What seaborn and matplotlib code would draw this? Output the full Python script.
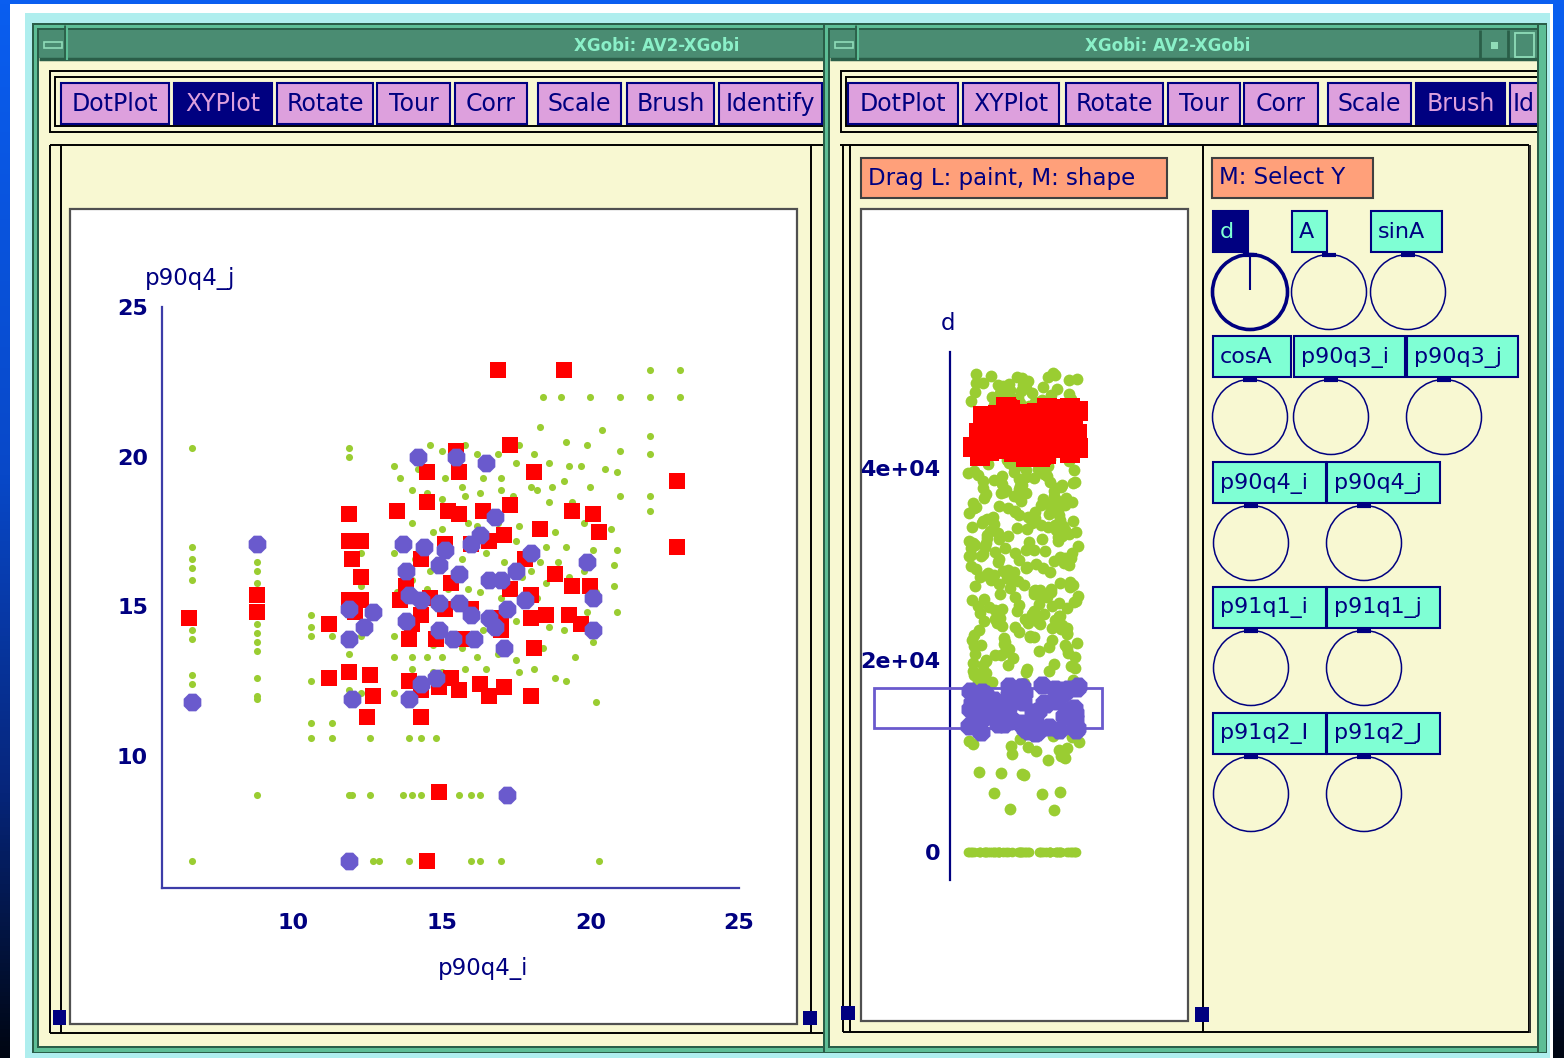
import matplotlib
matplotlib.use('Agg')
import matplotlib.pyplot as plt
from matplotlib.patches import Rectangle, Circle
from matplotlib.colors import LinearSegmentedColormap
import numpy as np
import seaborn as sns

# ---------------------------------------------------------------------------
# Data
# ---------------------------------------------------------------------------

# left window: XYPlot, p90q4_j against p90q4_i
green_xy = [
    (6.6, 20.3), (6.6, 17.0), (6.6, 16.6), (6.6, 16.3), (6.6, 15.9), (6.6, 14.2),
    (6.6, 13.9), (6.6, 12.7), (6.6, 12.4), (6.6, 6.5),
    (8.8, 16.5), (8.8, 16.2), (8.8, 15.8), (8.8, 14.4), (8.8, 14.1), (8.8, 13.8),
    (8.8, 13.5), (8.8, 12.6), (8.8, 12.0), (8.8, 11.9), (8.8, 8.7),
    (10.6, 14.7), (10.6, 14.3), (10.6, 14.0), (10.6, 12.5), (10.6, 11.1), (10.6, 10.6),
    (11.3, 14.0), (11.3, 11.1), (11.3, 10.6),
    (11.9, 20.3), (11.9, 20.0), (11.9, 13.4), (11.9, 12.2), (11.9, 8.7), (12.0, 8.7),
    (12.3, 16.8), (12.3, 15.7), (12.3, 14.0), (12.3, 12.1), (12.6, 10.6), (12.6, 8.7),
    (12.7, 6.5), (12.9, 6.5),
    (13.4, 19.7), (13.6, 19.3), (13.4, 16.8), (13.5, 15.5), (13.4, 14.0), (13.4, 13.3),
    (13.4, 12.1), (13.7, 8.7), (14.0, 8.7), (13.9, 6.5), (13.9, 10.6),
    (14.1, 19.9), (14.2, 19.6), (14.0, 18.9), (14.0, 17.8), (14.1, 16.6), (14.0, 15.9),
    (14.2, 14.7), (14.0, 13.3), (14.0, 12.9), (14.3, 10.6), (14.3, 8.7),
    (14.6, 20.4), (14.5, 18.8), (14.7, 17.5), (14.6, 16.2), (14.5, 15.6), (14.7, 13.7),
    (14.5, 13.3), (14.8, 10.6), (14.7, 12.8),
    (15.0, 20.2), (15.1, 19.3), (15.0, 18.6), (15.0, 17.6), (15.2, 15.6), (15.0, 13.3),
    (15.0, 12.8), (15.6, 8.7),
    (15.8, 20.4), (15.7, 19.0), (15.8, 18.7), (15.9, 17.8), (15.7, 16.6), (15.9, 15.6),
    (15.7, 13.6), (15.8, 12.9), (16.0, 8.7), (16.0, 6.5), (16.3, 6.5),
    (16.2, 20.1), (16.4, 19.3), (16.3, 18.8), (16.2, 17.7), (16.5, 16.8), (16.3, 15.5),
    (16.4, 14.2), (16.2, 13.3), (16.5, 12.9), (16.3, 8.7),
    (16.9, 20.1), (17.0, 19.3), (17.0, 18.9), (16.9, 17.8), (17.1, 16.5), (17.0, 15.3),
    (16.9, 13.4), (17.0, 6.5),
    (17.6, 20.4), (17.5, 19.8), (17.4, 18.7), (17.6, 17.7), (17.5, 17.2), (17.7, 16.0),
    (17.5, 14.5), (17.5, 13.2), (17.6, 12.8),
    (18.3, 21.0), (18.1, 20.1), (18.0, 19.0), (18.2, 18.9), (18.3, 16.5), (18.0, 16.2),
    (18.2, 15.3), (18.1, 12.9), (18.4, 13.6),
    (18.4, 22.0), (18.6, 19.8), (18.7, 19.0), (18.6, 18.5), (18.8, 17.5), (18.5, 17.0),
    (18.9, 16.5), (18.5, 15.8), (18.6, 14.3), (18.8, 12.6),
    (19.0, 22.0), (19.2, 20.5), (19.3, 19.7), (19.1, 19.2), (19.4, 18.5), (19.2, 17.0),
    (19.3, 16.0), (19.1, 14.2), (19.5, 13.3), (19.2, 12.5),
    (20.0, 22.0), (19.9, 20.4), (19.7, 19.7), (20.0, 19.0), (19.8, 17.8), (20.1, 16.9),
    (19.8, 16.2), (20.2, 15.5), (19.9, 14.8), (20.1, 13.8), (20.2, 11.8), (20.3, 6.5),
    (20.4, 20.9), (20.5, 19.6), (20.9, 19.5), (20.7, 17.6), (20.8, 16.4), (20.9, 16.9),
    (20.8, 15.7), (20.9, 14.8), (21.0, 22.0), (21.0, 20.2), (21.0, 18.7),
    (22.0, 22.9), (22.0, 22.0), (22.0, 20.7), (22.0, 20.1), (22.0, 18.7), (22.0, 18.2),
    (23.0, 22.9), (23.0, 22.0),
]

red_xy = [
    (16.9, 22.9), (19.1, 22.9), (22.9, 19.2), (22.9, 17.0), (17.3, 20.4), (15.5, 20.2),
    (14.5, 19.5), (15.6, 19.5), (18.1, 19.5), (11.9, 18.1), (13.5, 18.2), (14.5, 18.5),
    (15.2, 18.2), (15.6, 18.1), (16.4, 18.2), (17.3, 18.4), (18.3, 17.6), (19.4, 18.2),
    (20.1, 18.1), (20.3, 17.5), (11.9, 17.2), (12.3, 17.2), (12.0, 16.6), (12.3, 16.0),
    (11.9, 15.2), (12.3, 15.2), (13.8, 15.7), (14.3, 16.6), (15.1, 17.1), (16.0, 17.1),
    (16.6, 17.2), (17.1, 17.4), (17.8, 16.6), (18.8, 16.1), (19.4, 15.7), (20.0, 15.7),
    (18.0, 15.4), (18.5, 14.7), (19.3, 14.7), (19.7, 14.4), (11.2, 14.4), (13.6, 15.2),
    (14.3, 14.7), (15.1, 14.9), (16.0, 14.9), (17.0, 14.6), (18.0, 14.6), (13.9, 13.9),
    (14.8, 13.9), (15.7, 13.9), (17.0, 14.2), (18.1, 13.6), (11.2, 12.6), (11.9, 12.8),
    (12.6, 12.7), (12.7, 12.0), (13.9, 12.5), (14.3, 12.2), (14.9, 12.3), (15.6, 12.2),
    (16.3, 12.4), (17.1, 12.3), (18.0, 12.0), (12.5, 11.3), (14.3, 11.3), (14.9, 8.8),
    (14.5, 6.5), (8.8, 15.4), (8.8, 14.8), (6.5, 14.6), (14.6, 15.3), (15.3, 15.8),
    (14.0, 14.4), (17.3, 15.6), (12.1, 14.8), (15.3, 12.6), (16.6, 12.0),
]

blue_xy = [
    (14.2, 20.0), (15.5, 20.0), (16.5, 19.8), (8.8, 17.1), (13.7, 17.1), (14.4, 17.0),
    (15.1, 16.9), (16.0, 17.1), (16.3, 17.4), (16.8, 18.0), (18.0, 16.8), (19.9, 16.5),
    (13.8, 16.2), (14.9, 16.4), (15.6, 16.1), (16.6, 15.9), (17.0, 15.9), (17.5, 16.2),
    (13.9, 15.4), (14.3, 15.2), (14.9, 15.1), (15.6, 15.1), (11.9, 14.9), (12.7, 14.8),
    (16.0, 14.7), (16.6, 14.6), (17.2, 14.9), (17.8, 15.2), (20.1, 15.3), (11.9, 13.9),
    (12.4, 14.3), (13.8, 14.5), (14.9, 14.2), (15.4, 13.9), (16.1, 13.9), (16.8, 14.3),
    (17.1, 13.6), (20.1, 14.2), (6.6, 11.8), (12.0, 11.9), (13.9, 11.9), (14.3, 12.4),
    (14.8, 12.6), (17.2, 8.7), (11.9, 6.5),
]
xy_ticks = [10, 15, 20, 25]

# right window: dotplot of d (values in thousands)
d_green = [
    49.8, 49.7, 49.5, 49.5, 49.3, 49.1, 49.0, 48.9, 48.6, 48.6, 48.4, 48.2, 48.1, 47.9,
    47.8, 47.7, 47.4, 47.3, 47.2, 47.0, 46.9, 46.7, 46.6, 46.5, 49.2, 48.8, 48.3, 47.6,
    47.1, 46.8, 49.6, 49.4, 48.7, 48.0, 47.5, 46.6, 49.9, 48.5, 47.85, 46.95,
    40.95, 40.8, 40.62, 40.5, 40.33, 40.21, 40.07, 40.71, 40.44, 40.9, 40.15, 40.58,
    39.9, 39.76, 39.6, 39.48, 39.3, 39.17, 39.05, 39.55, 39.84, 39.4, 39.68, 39.12,
    38.92, 38.7, 38.58, 38.41, 38.27, 38.1, 38.02, 38.63, 38.35, 38.8, 38.5, 38.18,
    37.88, 37.73, 37.5, 37.42, 37.26, 37.13, 37.0, 37.61, 37.95, 37.35, 37.8, 37.05,
    36.9, 36.79, 36.6, 36.45, 36.32, 36.18, 36.04, 36.55, 36.71, 36.25, 36.85, 36.1,
    35.93, 35.82, 35.64, 35.5, 35.37, 35.2, 35.08, 35.7, 35.28, 35.45, 35.15, 35.88,
    34.91, 34.74, 34.6, 34.43, 34.31, 34.15, 34.02, 34.52, 34.86, 34.25, 34.68, 34.08,
    33.95, 33.8, 33.66, 33.49, 33.33, 33.21, 33.06, 33.58, 33.12, 33.4, 33.72, 33.88,
    32.9, 32.72, 32.61, 32.44, 32.3, 32.16, 32.01, 32.55, 32.83, 32.22, 32.38, 32.95,
    31.94, 31.77, 31.62, 31.5, 31.35, 31.19, 31.03, 31.7, 31.41, 31.1, 31.86, 31.28,
    30.88, 30.75, 30.58, 30.42, 30.3, 30.12, 30.04, 30.65, 30.96, 30.2, 30.5, 30.81,
    29.92, 29.8, 29.63, 29.47, 29.36, 29.2, 29.07, 29.55, 29.7, 29.28, 29.12,
    28.9, 28.71, 28.57, 28.45, 28.28, 28.14, 28.02, 28.63, 28.39, 28.8, 28.2,
    27.93, 27.78, 27.6, 27.48, 27.31, 27.17, 27.05, 27.69, 27.4, 27.85, 27.24,
    26.91, 26.74, 26.59, 26.42, 26.33, 26.19, 26.06, 26.51, 26.85, 26.27, 26.66,
    25.95, 25.8, 25.66, 25.5, 25.34, 25.22, 25.08, 25.58, 25.42, 25.73, 25.15,
    24.9, 24.77, 24.62, 24.46, 24.3, 24.15, 24.01, 24.55, 24.83, 24.38, 24.22,
    23.94, 23.8, 23.64, 23.48, 23.35, 23.2, 23.09, 23.71, 23.56, 23.28, 23.87,
    22.88, 22.72, 22.6, 22.43, 22.29, 22.13, 22.05, 22.52, 22.8, 22.36,
    21.9, 21.77, 21.6, 21.45, 21.32, 21.18, 21.03, 21.52, 21.68, 21.25,
    20.93, 20.8, 20.64, 20.47, 20.3, 20.16, 20.02, 20.55, 20.72,
    19.85, 19.6, 19.44, 19.2, 19.05, 19.72, 19.33, 19.52,
    18.9, 18.7, 18.52, 18.33, 18.1, 18.61, 18.42, 18.8,
    17.95, 17.8, 17.6, 17.5, 17.7,
    12.1, 12.0, 11.8, 11.6, 11.5, 11.2, 11.0, 10.9, 10.8, 10.6, 10.5, 10.2, 10.0, 9.9,
    9.8, 9.6, 8.3, 8.2, 8.1, 8.0, 6.2, 6.1, 6.0, 4.5, 4.4,
]
d_zero = [0.0, 0.0, 0.0, 0.0, 0.0, 0.0, 0.0, 0.0, 0.0, 0.0, 0.0, 0.0, 0.0, 0.0, 0.0,
          0.0, 0.0, 0.0, 0.0, 0.0, 0.0, 0.0, 0.0, 0.0, 0.0, 0.0, 0.0, 0.0, 0.0, 0.0,
          0.0, 0.0, 0.0, 0.0, 0.0, 0.0, 0.0, 0.0, 0.0, 0.0, 0.0, 0.0, 0.0, 0.0, 0.0,
          0.0, 0.0, 0.0, 0.0, 0.0, 0.0, 0.0, 0.0, 0.0, 0.0, 0.0, 0.0, 0.0, 0.0, 0.0]
d_red = [
    46.3, 46.2, 46.1, 46.0, 45.9, 45.7, 45.6, 45.4, 45.3, 45.1, 45.0, 44.8, 44.7, 44.5,
    44.4, 44.2, 44.1, 43.9, 43.8, 43.6, 43.5, 43.3, 43.2, 43.0, 42.9, 42.7, 42.6, 42.4,
    42.3, 42.1, 42.0, 41.8, 41.7, 41.5, 41.4, 41.2, 41.1, 46.25, 45.8, 44.95, 44.0,
    43.1, 42.2, 41.6, 45.5, 44.3, 43.4, 42.5, 41.3, 46.15, 46.05, 45.85, 45.65, 45.45,
    45.25, 45.05, 44.85, 44.65, 44.45, 44.25, 44.05, 43.85, 43.65, 43.45, 43.25,
    43.05, 42.85, 42.65, 42.45, 42.25, 42.05, 41.85, 41.65, 41.45, 41.25, 41.15,
]
d_blue = [
    17.3, 17.2, 17.1, 17.0, 16.9, 16.7, 16.6, 16.4, 16.3, 16.1, 16.0, 15.8, 15.7, 15.5,
    15.4, 15.2, 15.1, 14.9, 14.8, 14.6, 14.5, 14.3, 14.2, 14.0, 13.9, 13.7, 13.6, 13.4,
    13.3, 13.1, 13.0, 12.8, 12.7, 12.5, 12.4, 17.25, 16.5, 15.6, 14.7, 13.8, 12.9, 16.8,
    17.15, 16.95, 16.75, 16.55, 16.35, 16.15, 15.95, 15.75, 15.55, 15.35, 15.15,
    14.95, 14.75, 14.55, 14.35, 14.15, 13.95, 13.75, 13.55, 13.35, 13.15, 12.95,
    12.75, 12.55, 12.45, 17.35,
]
d_ticks = [0, 20, 40]
d_ticklabels = ['0', '2e+04', '4e+04']

left_buttons = ['DotPlot', 'XYPlot', 'Rotate', 'Tour', 'Corr', 'Scale', 'Brush', 'Identify']
# the last button of the right window is cut by the window edge: only "Id" shows
right_buttons = ['DotPlot', 'XYPlot', 'Rotate', 'Tour', 'Corr', 'Scale', 'Brush', 'Id']
var_rows = [['d', 'A', 'sinA'], ['cosA', 'p90q3_i', 'p90q3_j'], ['p90q4_i', 'p90q4_j'],
            ['p91q1_i', 'p91q1_j'], ['p91q2_I', 'p91q2_J']]

# ---------------------------------------------------------------------------
# Colours (X11 names of the xgobi resources)
# ---------------------------------------------------------------------------
NAVY = '#000080'
AXIS = '#3c3ca8'
PLUM = '#dda0dd'
YELLOW = '#f8f8d2'
AQUA = '#7fffd4'
SALMON = '#ffa07a'
DKGREEN = '#2a5e48'
LTGREEN = '#5dbe96'
TITLEGREEN = '#4a8c72'
GREEN = '#9acd32'
RED = '#ff0000'
BLUE = '#6a5acd'

sns.set_theme(style='white')
plt.rcParams['font.family'] = ['DejaVu Sans']

W, H = 1564, 1058
fig = plt.figure(figsize=(W / 100, H / 100), dpi=100)
bg = fig.add_axes([0, 0, 1, 1])

# blue desktop gradient
cmap = LinearSegmentedColormap.from_list(
    'desk', [(0, '#0a5ef0'), (0.45, '#0848c8'), (0.75, '#06257a'), (1, '#000612')])
bg.imshow(np.linspace(0, 1, 256).reshape(-1, 1), extent=(0, W, H, 0), aspect='auto',
          cmap=cmap, zorder=0)
bg.set_xlim(0, W)
bg.set_ylim(H, 0)
bg.axis('off')


def box(x0, y0, x1, y1, fc='none', ec='none', lw=0, z=1):
    bg.add_patch(Rectangle((x0, y0), x1 - x0, y1 - y0, facecolor=fc, edgecolor=ec,
                           linewidth=lw, zorder=z))


def line(xs, ys, c='black', lw=1.4, z=1):
    bg.plot(xs, ys, color=c, lw=lw, zorder=z, solid_capstyle='butt')


box(10, 4, 1553, H, fc='white', z=0.5)
box(25, 13, 1550, H, fc='#afeeee', z=0.6)


def window(x0, x1, z):
    y0, y1 = 23, 1053
    box(x0, y0, x1, y1, fc=DKGREEN, z=z)
    box(x0 + 1.5, y0 + 1.5, x1 - 1.5, y1 - 1.5, fc=LTGREEN, z=z)
    box(x0 + 5, y0 + 5, x1 - 5, y1 - 5, fc=DKGREEN, z=z)
    box(x0 + 7, y0 + 7, x1 - 7, y1 - 7, fc=YELLOW, z=z)
    # title bar
    box(x0 + 7, y0 + 7, x1 - 7, y0 + 35, fc=TITLEGREEN, z=z)
    line([x0 + 7, x1 - 7], [y0 + 36, y0 + 36], c=DKGREEN, lw=2.5, z=z)
    # minimise box at the left of the title bar
    line([x0 + 33, x0 + 33], [y0 + 2, y0 + 37], c=DKGREEN, lw=2, z=z)
    line([x0 + 35, x0 + 35], [y0 + 2, y0 + 37], c=LTGREEN, lw=1.5, z=z)
    box(x0 + 12, y0 + 19, x0 + 30, y0 + 25, fc=TITLEGREEN, ec='#8fdcb8', lw=1.2, z=z)
    # button panel frame
    right = min(x1 + 20, 1540)
    box(x0 + 18, 71, right, 132, ec='black', lw=1.4, z=z)
    box(x0 + 23, 77, right, 126, ec='black', lw=1.4, z=z)


def buttons(names, spans, selected, z):
    for name, (bx0, bx1) in zip(names, spans):
        on = name == selected
        box(bx0, 83, bx1, 124, fc=NAVY if on else PLUM, ec=NAVY, lw=1.5, z=z)
        if bx1 > 1537:
            # button cut by the window edge: text starts at its left padding
            bg.text(bx0 + 3, 104, name, ha='left', va='center', fontsize=17,
                    color=NAVY, zorder=z)
        else:
            bg.text((bx0 + bx1) / 2, 104, name, ha='center', va='center', fontsize=17,
                    color=PLUM if on else NAVY, zorder=z)


# ---------------- left window ----------------
window(32, 840, z=1)
bg.text(657, 46, 'XGobi: AV2-XGobi', ha='center', va='center', fontsize=12,
        fontweight='bold', color='#8af0c8', zorder=2)
buttons(left_buttons,
        [(61, 169), (174, 272), (277, 373), (377, 450), (455, 527), (538, 621),
         (627, 714), (719, 822)], 'XYPlot', z=2)
line([50, 840], [145, 145], z=2)
line([50, 840], [1033, 1033], z=2)
line([50, 50], [145, 1033], z=2)
line([61, 61], [145, 1033], z=2)
line([811, 811], [145, 1033], z=2)
box(70, 209, 797, 1024, fc='white', ec='#505050', lw=1.6, z=2)
box(53, 1010, 66, 1025, fc=NAVY, z=2)
box(803, 1011, 817, 1025, fc=NAVY, z=2)
bg.text(145, 278, 'p90q4_j', ha='left', va='center', fontsize=16.5, color=NAVY, zorder=3)
bg.text(483, 968, 'p90q4_i', ha='center', va='center', fontsize=16.5, color=NAVY, zorder=3)

# ---------------- right window ----------------
window(823, 1547, z=10)
bg.text(1168, 46, 'XGobi: AV2-XGobi', ha='center', va='center', fontsize=12,
        fontweight='bold', color='#8af0c8', zorder=11)
line([1480, 1480], [30, 58], c=DKGREEN, lw=2, z=11)
line([1508, 1508], [30, 58], c=DKGREEN, lw=2, z=11)
box(1491, 42, 1498, 49, fc='#8fdcb8', z=11)
box(1515, 33, 1534, 57, ec='#8fdcb8', lw=1.3, z=11)
buttons(right_buttons,
        [(848, 958), (963, 1059), (1066, 1163), (1168, 1240), (1244, 1318),
         (1328, 1411), (1416, 1505), (1510, 1566)], 'Brush', z=11)
line([840, 1529], [145, 145], z=11)
line([843, 1529], [1032, 1032], z=11)
line([843, 843], [145, 1032], z=11)
line([850, 850], [145, 1032], z=11)
line([1203, 1203], [145, 1032], z=11)
line([1529, 1529], [145, 1032], z=11)
box(861, 158, 1167, 198, fc=SALMON, ec='#404040', lw=1.5, z=11)
bg.text(868, 178, 'Drag L: paint, M: shape', ha='left', va='center', fontsize=16.5,
        color=NAVY, zorder=12)
box(1212, 158, 1373, 198, fc=SALMON, ec='#404040', lw=1.5, z=11)
bg.text(1219, 178, 'M: Select Y', ha='left', va='center', fontsize=16.5,
        color=NAVY, zorder=12)
box(861, 209, 1188, 1021, fc='white', ec='#505050', lw=1.6, z=11)
box(841, 1006, 855, 1020, fc=NAVY, z=12)
box(1195, 1007, 1209, 1022, fc=NAVY, z=12)
bg.text(948, 323, 'd', ha='center', va='center', fontsize=16.5, color=NAVY, zorder=12)

# variable selection circles
row_tops = [211, 336, 462, 587, 713]
row_spans = [[(1213, 1248), (1292, 1327), (1371, 1442)],
             [(1213, 1291), (1294, 1405), (1407, 1518)],
             [(1213, 1326), (1327, 1440)],
             [(1213, 1326), (1327, 1440)],
             [(1213, 1326), (1327, 1440)]]
row_centres = [[1250, 1329, 1408], [1250, 1331, 1444], [1251, 1364],
               [1251, 1364], [1251, 1364]]
for names, top, spans, centres in zip(var_rows, row_tops, row_spans, row_centres):
    cy = top + 81
    for name, (bx0, bx1), cx in zip(names, spans, centres):
        on = name == 'd'
        box(bx0, top, bx1, top + 41, fc=NAVY if on else AQUA, ec=NAVY, lw=1.5, z=12)
        bg.text(bx0 + 7, top + 21, name, ha='left', va='center', fontsize=16,
                color=AQUA if on else NAVY, zorder=13)
        bg.add_patch(Circle((cx, cy), 37.5, facecolor='none', edgecolor=NAVY,
                            lw=2.6 if on else 1.1, zorder=12))
        line([cx - 7, cx + 7], [cy - 37.5, cy - 37.5], c=NAVY, lw=3, z=12)
        if on:
            line([cx, cx], [cy - 37, cy - 2], c=NAVY, lw=1.5, z=12)

# right frame edge drawn on top so the clipped button disappears behind it
box(1537, 23, 1547, 1053, fc=DKGREEN, z=14)
box(1538.5, 24.5, 1545.5, 1051.5, fc=LTGREEN, z=14)
box(1547, 13, 1550, H, fc='#afeeee', z=14)
box(1550, 4, 1553, H, fc='white', z=14)
bg.imshow(np.linspace(0, 1, 256).reshape(-1, 1), extent=(1553, W, H, 0), aspect='auto',
          cmap=cmap, zorder=14)
box(1531, 136, 1537, 1046, fc=YELLOW, z=14)
box(1529, 145, 1531, 1033, fc='#303030', z=14)
bg.set_xlim(0, W)
bg.set_ylim(H, 0)

# ---------------------------------------------------------------------------
# XYPlot (left)
# ---------------------------------------------------------------------------
ax1 = fig.add_axes([162 / W, 1 - 888 / H, (739 - 162) / W, (888 - 307) / H])
ax1.set_facecolor('none')
gx, gy = zip(*green_xy)
rx, ry = zip(*red_xy)
bx, by = zip(*blue_xy)
sns.scatterplot(x=list(gx), y=list(gy), ax=ax1, color=GREEN, s=26, marker='o',
                linewidth=0, clip_on=False)
sns.scatterplot(x=list(rx), y=list(ry), ax=ax1, color=RED, s=135, marker='s',
                linewidth=0, clip_on=False)
sns.scatterplot(x=list(bx), y=list(by), ax=ax1, color=BLUE, s=190, marker='8',
                linewidth=0, clip_on=False)
ax1.set_xlim(5.6, 25)
ax1.set_ylim(5.6, 25)
ax1.set_xticks(xy_ticks)
ax1.set_yticks(xy_ticks)
for side in ['top', 'right']:
    ax1.spines[side].set_visible(False)
for side in ['left', 'bottom']:
    ax1.spines[side].set_color(AXIS)
    ax1.spines[side].set_linewidth(1.6)
ax1.tick_params(axis='both', direction='out', length=7, width=1.6, color=AXIS,
                labelcolor=NAVY, labelsize=16)
ax1.tick_params(axis='x', pad=11)
ax1.tick_params(axis='y', pad=3)
for lab in ax1.get_xticklabels() + ax1.get_yticklabels():
    lab.set_fontweight('bold')
ax1.grid(False)

# ---------------------------------------------------------------------------
# DotPlot of d (right)
# ---------------------------------------------------------------------------
ax2 = fig.add_axes([950 / W, 1 - 880 / H, 150 / W, (880 - 352) / H])
ax2.set_facecolor('none')
np.random.seed(7)
sns.stripplot(y=d_green, ax=ax2, color=GREEN, jitter=0.37, size=8.5, linewidth=0)
sns.stripplot(y=d_zero, ax=ax2, color=GREEN, jitter=0.37, size=7, linewidth=0)
sns.stripplot(y=d_red, ax=ax2, color=RED, jitter=0.37, size=14, marker='s',
              linewidth=0)
sns.stripplot(y=d_blue, ax=ax2, color=BLUE, jitter=0.37, size=14, marker='8',
              linewidth=0)
ax2.add_patch(Rectangle((-0.997, 12.9), 1.52, 4.2, facecolor='none', edgecolor=BLUE,
                        linewidth=2, clip_on=False, zorder=5))
ax2.set_xlim(-0.49, 0.51)
ax2.set_ylim(-2.92, 52.08)
ax2.set_xticks([])
ax2.set_yticks(d_ticks)
ax2.set_yticklabels(d_ticklabels)
ax2.set_ylabel('')
for side in ['top', 'right', 'bottom']:
    ax2.spines[side].set_visible(False)
ax2.spines['left'].set_color(NAVY)
ax2.spines['left'].set_linewidth(1.6)
ax2.tick_params(axis='y', direction='out', length=6, width=1.6, color=NAVY,
                labelcolor=NAVY, labelsize=16, pad=1)
for lab in ax2.get_yticklabels():
    lab.set_fontweight('bold')
ax2.grid(False)

fig.savefig('out.png', dpi=100)
plt.close(fig)
